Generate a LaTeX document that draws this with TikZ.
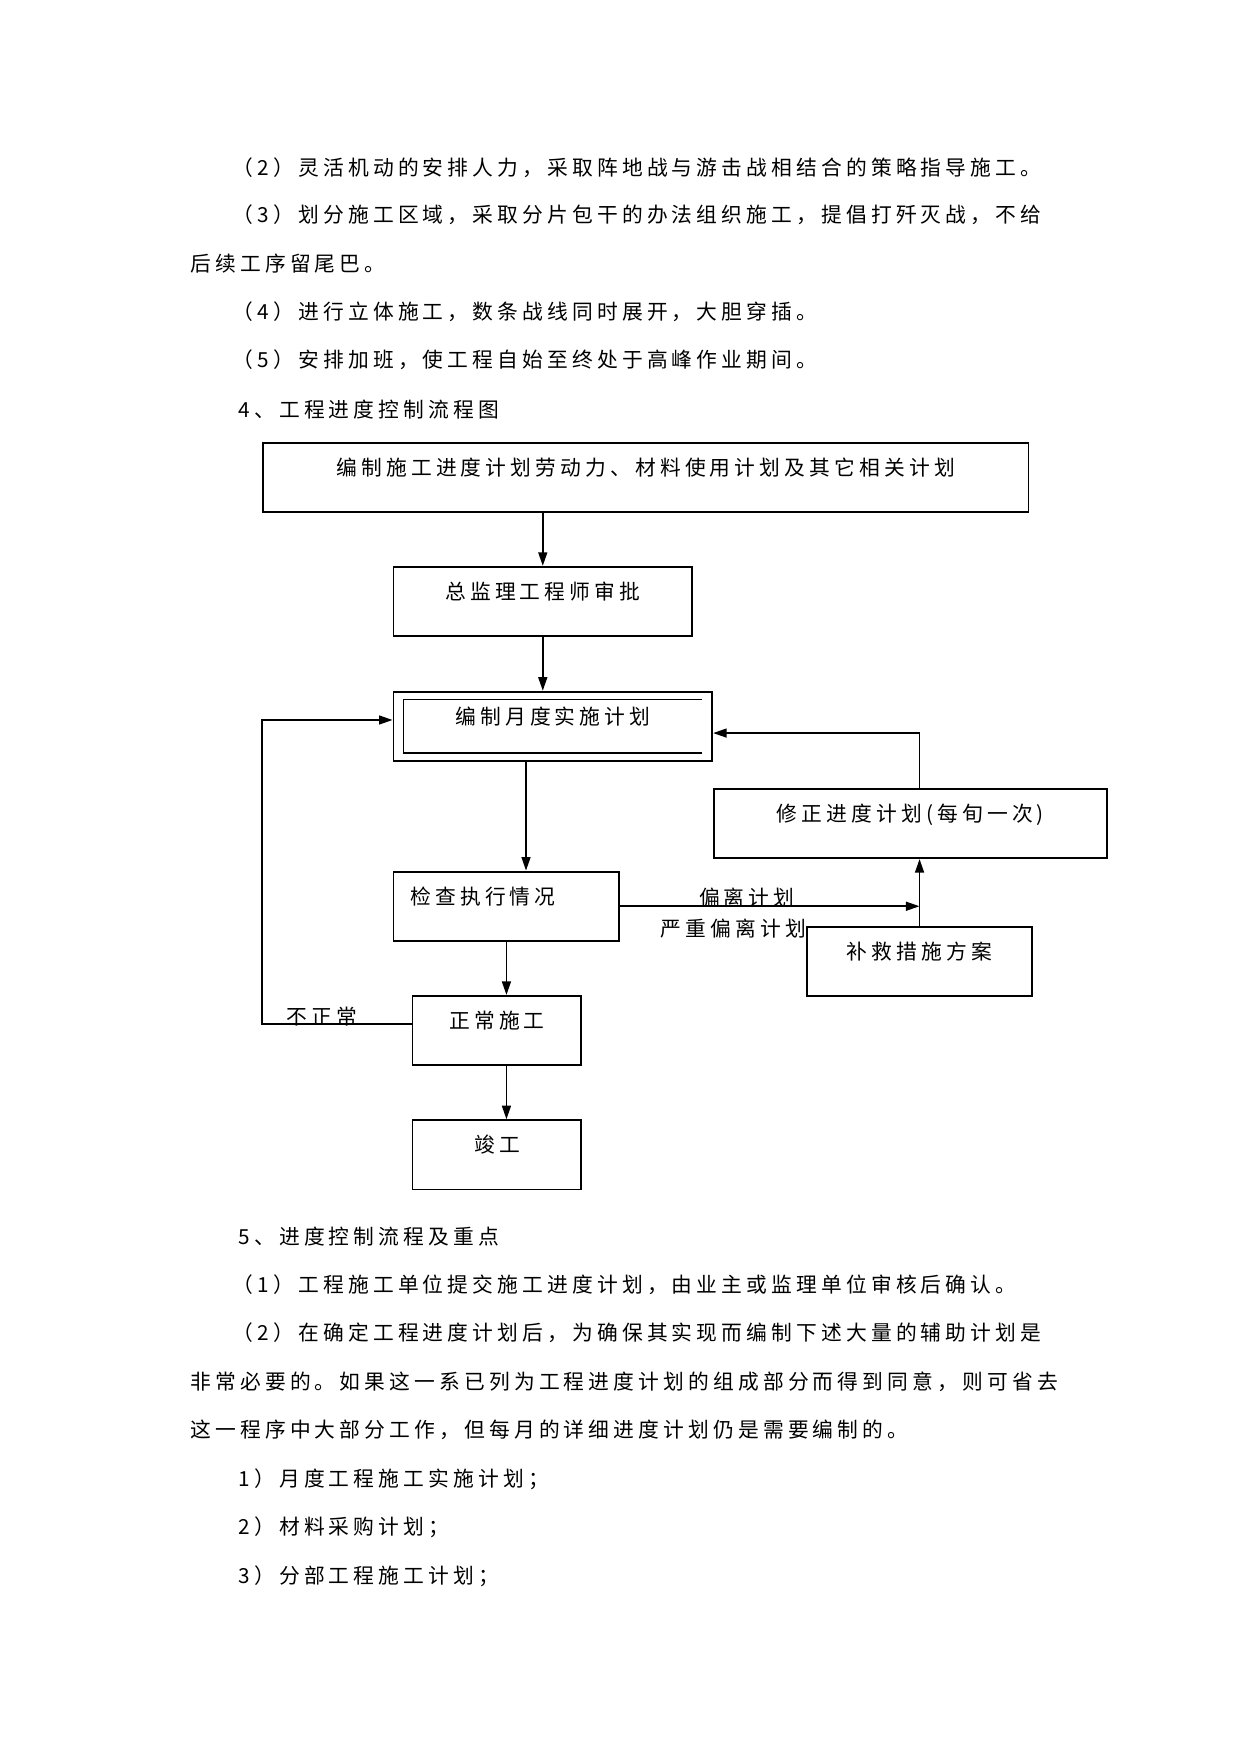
\documentclass[tikz,border=0pt]{standalone}
\usepackage{fontspec}
\setmainfont{Noto Sans CJK SC}[LetterSpace=20]
\usetikzlibrary{arrows.meta}
\newlength\pxu
\setlength\pxu{0.018936cm}
\tikzset{
  txtline/.style={anchor=west, inner sep=0pt, font=\fontsize{10pt}{12pt}\selectfont},
  lbl/.style={inner sep=0pt, font=\fontsize{10pt}{12pt}\selectfont},
  flowbox/.style={draw, line width=0.9pt, inner sep=0pt, text height=29\pxu, text depth=33\pxu,
    font=\fontsize{10pt}{12pt}\selectfont},
  flowarrow/.style={line width=0.9pt, -{Triangle[length=0.23cm,width=0.15cm]}}
}
\begin{document}
\begin{tikzpicture}[x=0.018936cm, y=-0.018936cm]
\useasboundingbox (0,0) rectangle (1109,1568);
% text above the chart
\node[txtline] (p2) at (208,150) {（2）灵活机动的安排人力，采取阵地战与游击战相结合的策略指导施工。};
\node[txtline] (p3) at (208,192) {（3）划分施工区域，采取分片包干的办法组织施工，提倡打歼灭战，不给};
\node[txtline] (p3b) at (170,236) {后续工序留尾巴。};
\node[txtline] (p4) at (208,279) {（4）进行立体施工，数条战线同时展开，大胆穿插。};
\node[txtline] (p5) at (208,322) {（5）安排加班，使工程自始至终处于高峰作业期间。};
\node[txtline] (h4) at (213,366) {4、工程进度控制流程图};

% the chart
\node[flowbox, minimum width=685\pxu] (plan) at (577.5,427) {编制施工进度计划劳动力、材料使用计划及其它相关计划};
\node[flowbox, minimum width=267\pxu] (approve) at (485.5,538) {总监理工程师审批};
\node[flowbox, minimum width=285\pxu] (monthly) at (494.5,649.7) {编制月度实施计划};
\node[flowbox, minimum width=351\pxu] (revise) at (814.3,736.5) {修正进度计划(每旬一次)};
\node[flowbox, text width=172\pxu, inner xsep=15\pxu, align=left] (check) at (453,810.6) {检查执行情况};
\node[flowbox, minimum width=201\pxu] (remedy) at (822.5,860) {补救措施方案};
\node[flowbox, minimum width=151\pxu] (normal) at (444.5,921.8) {正常施工};
\node[flowbox, minimum width=151\pxu] (finish) at (444.5,1033) {竣工};
\draw[line width=0.6pt] ([xshift=-10\pxu,yshift=-8\pxu]monthly.north east) -- ([xshift=10\pxu,yshift=-8\pxu]monthly.north west)
  -- ([xshift=10\pxu,yshift=8\pxu]monthly.south west) -- ([xshift=-10\pxu,yshift=8\pxu]monthly.south east);

\draw[flowarrow] (approve.north |- plan.south) -- (approve.north);
\draw[flowarrow] (approve.south) -- (approve.south |- monthly.north);
\draw[flowarrow] ([xshift=17.5\pxu]check.north |- monthly.south) -- ([xshift=17.5\pxu]check.north);
\draw[flowarrow] (check.south) -- (check.south |- normal.north);
\draw[flowarrow] ([xshift=8.5\pxu]normal.south) -- ([xshift=8.5\pxu]finish.north);
\draw[flowarrow] (check.east) -- (check.east -| remedy.north);
\draw[flowarrow] (remedy.north) -- (remedy.north |- revise.south);
\draw[flowarrow] (remedy.north |- revise.north) |- ([yshift=-6\pxu]monthly.east);
\draw[flowarrow] ([yshift=6\pxu]normal.west) -- ([yshift=6\pxu]normal.west -| plan.west)
  |- ([yshift=5.7\pxu]monthly.west);
\node[lbl] (dev) at (668,803) {偏离计划};
\node[lbl] (sdev) at (656,830.5) {严重偏离计划};
\node[lbl] (abn) at (288,909.6) {不正常};

% text below the chart
\node[txtline] (h5) at (213,1106) {5、进度控制流程及重点};
\node[txtline] (q1) at (208,1149) {（1）工程施工单位提交施工进度计划，由业主或监理单位审核后确认。};
\node[txtline] (q2) at (208,1192) {（2）在确定工程进度计划后，为确保其实现而编制下述大量的辅助计划是};
\node[txtline] (q2b) at (170,1236) {非常必要的。如果这一系已列为工程进度计划的组成部分而得到同意，则可省去};
\node[txtline] (q2c) at (170,1279) {这一程序中大部分工作，但每月的详细进度计划仍是需要编制的。};
\node[txtline] (r1) at (213,1323) {1）月度工程施工实施计划；};
\node[txtline] (r2) at (213,1366) {2）材料采购计划；};
\node[txtline] (r3) at (213,1410) {3）分部工程施工计划；};
\end{tikzpicture}
\end{document}
